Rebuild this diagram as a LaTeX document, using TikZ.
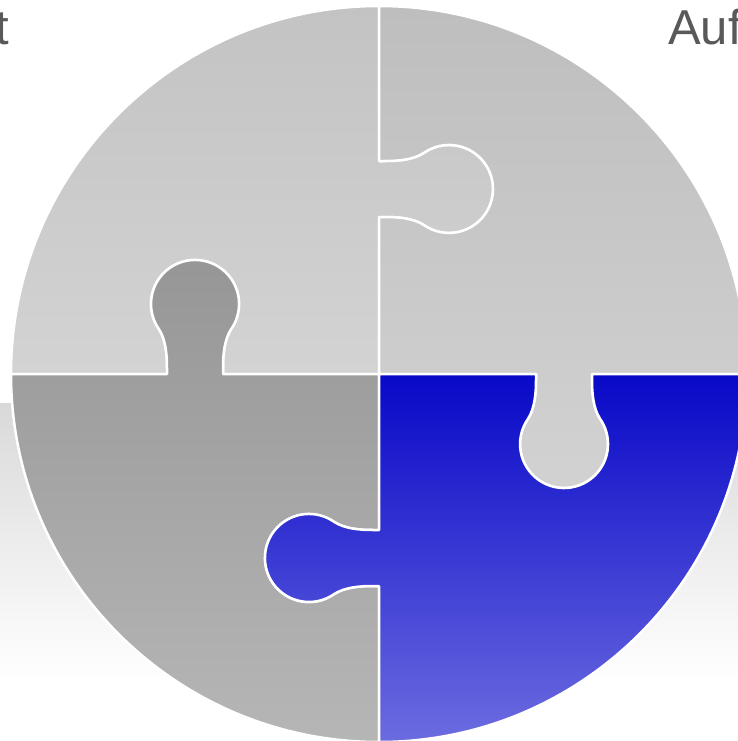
\documentclass[tikz,border=0pt]{standalone}
\usepackage{fontspec}
\setmainfont{Liberation Sans}
\definecolor{bgtop}{HTML}{D9D9D9}
\definecolor{tltop}{HTML}{C3C3C3}
\definecolor{tlbot}{HTML}{D3D3D3}
\definecolor{trtop}{HTML}{BEBEBE}
\definecolor{trbot}{HTML}{D2D2D2}
\definecolor{bltop}{HTML}{969696}
\definecolor{blbot}{HTML}{B6B6B6}
\definecolor{brtop}{HTML}{0808C8}
\definecolor{brbot}{HTML}{6C6CE0}
\definecolor{txt}{HTML}{595959}
\begin{document}
\begin{tikzpicture}[x=1pt,y=-1pt,
  piece/.style={draw=white, line width=2.5pt, line join=round},
  label/.style={inner sep=0pt, text=txt, font=\fontsize{49}{55}\selectfont}]
\useasboundingbox (0,0) rectangle (738,741);
\fill[white] (0,0) rectangle (738,741);
\shade[top color=bgtop, bottom color=white] (0,403) rectangle (738,680);
% top-left piece
\shade[piece, top color=tltop, bottom color=tlbot]
  (11,374) arc[start angle=180, end angle=270, radius=368]
  -- (379,161) -- (385,161) .. controls (397,161) and (413,160) .. (423.8,153)
  arc[start angle=235, end angle=485, radius=44]
  .. controls (413,218) and (397,217) .. (385,217) -- (379,217)
  -- (379,374) -- (223,374) -- (223,368) .. controls (223,356) and (224,340) .. (231,329.2)
  arc[start angle=35, end angle=-215, radius=44]
  .. controls (166,340) and (167,356) .. (167,368) -- (167,374) -- cycle;
% top-right piece
\shade[piece, top color=trtop, bottom color=trbot]
  (379,6) arc[start angle=270, end angle=360, radius=368]
  -- (592,374) -- (592,380) .. controls (592,392) and (593,408) .. (600,418.8)
  arc[start angle=-35, end angle=215, radius=44]
  .. controls (535,408) and (536,392) .. (536,380) -- (536,374)
  -- (379,374) -- (379,217) -- (385,217) .. controls (397,217) and (413,218) .. (423.8,225)
  arc[start angle=125, end angle=-125, radius=44]
  .. controls (413,160) and (397,161) .. (385,161) -- (379,161) -- cycle;
% bottom-left piece
\shade[piece, top color=bltop, bottom color=blbot]
  (379,742) arc[start angle=90, end angle=180, radius=368]
  -- (167,374) -- (167,368) .. controls (167,356) and (166,340) .. (159,329.2)
  arc[start angle=145, end angle=395, radius=44]
  .. controls (224,340) and (223,356) .. (223,368) -- (223,374)
  -- (379,374) -- (379,530) -- (373,530) .. controls (361,530) and (345,529) .. (334.2,522)
  arc[start angle=-55, end angle=-305, radius=44]
  .. controls (345,587) and (361,586) .. (373,586) -- (379,586) -- cycle;
% bottom-right piece
\shade[piece, top color=brtop, bottom color=brbot]
  (747,374) arc[start angle=0, end angle=90, radius=368]
  -- (379,586) -- (373,586) .. controls (361,586) and (345,587) .. (334.2,594)
  arc[start angle=55, end angle=305, radius=44]
  .. controls (345,529) and (361,530) .. (373,530) -- (379,530)
  -- (379,374) -- (536,374) -- (536,380) .. controls (536,392) and (535,408) .. (528,418.8)
  arc[start angle=215, end angle=-35, radius=44]
  .. controls (593,408) and (592,392) .. (592,380) -- (592,374) -- cycle;
\node[label, anchor=base east] (tleft) at (9,45) {t};
\node[label, anchor=base west] (tright) at (668,45) {Auf};
\end{tikzpicture}
\end{document}
